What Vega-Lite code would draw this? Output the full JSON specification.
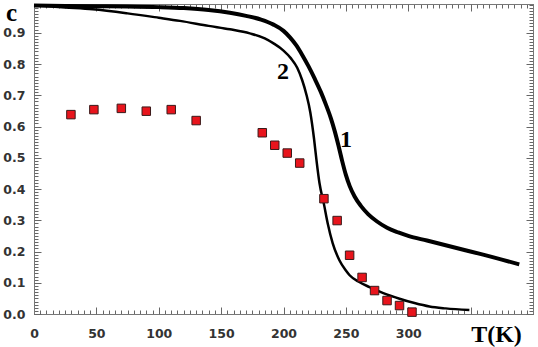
{
  "$schema": "https://vega.github.io/schema/vega-lite/v6.json",
  "width": 499,
  "height": 310,
  "autosize": {"type": "none"},
  "padding": {"left": 34, "top": 4, "right": 5, "bottom": 33},
  "background": "white",
  "datasets": {
    "curves": [
      {"T": 0, "c": 0.987}, {"T": 25, "c": 0.986}, {"T": 50, "c": 0.985}, {"T": 75, "c": 0.984}, {"T": 100, "c": 0.982}, {"T": 120, "c": 0.979}, {"T": 140, "c": 0.973}, {"T": 157, "c": 0.964}, {"T": 170, "c": 0.954}, {"T": 182, "c": 0.942}, {"T": 192, "c": 0.926}, {"T": 200, "c": 0.906}, {"T": 205, "c": 0.886}, {"T": 210, "c": 0.861}, {"T": 215, "c": 0.829}, {"T": 220, "c": 0.793}, {"T": 225, "c": 0.753}, {"T": 230, "c": 0.71}, {"T": 234, "c": 0.67}, {"T": 238, "c": 0.626}, {"T": 241, "c": 0.586}, {"T": 244, "c": 0.54}, {"T": 247, "c": 0.49}, {"T": 250, "c": 0.445}, {"T": 253, "c": 0.41}, {"T": 257, "c": 0.376}, {"T": 262, "c": 0.346}, {"T": 268, "c": 0.319}, {"T": 275, "c": 0.296}, {"T": 283, "c": 0.276}, {"T": 292, "c": 0.261}, {"T": 300, "c": 0.25}, {"T": 315, "c": 0.235}, {"T": 330, "c": 0.22}, {"T": 345, "c": 0.205}, {"T": 360, "c": 0.19}, {"T": 375, "c": 0.174}, {"T": 389, "c": 0.159}
    ],
    "curve2": [
      {"T": 0, "c": 0.988}, {"T": 25, "c": 0.981}, {"T": 47, "c": 0.975}, {"T": 75, "c": 0.962}, {"T": 100, "c": 0.948}, {"T": 117, "c": 0.938}, {"T": 140, "c": 0.922}, {"T": 157, "c": 0.911}, {"T": 173, "c": 0.898}, {"T": 185, "c": 0.882}, {"T": 192, "c": 0.866}, {"T": 200, "c": 0.843}, {"T": 206, "c": 0.818}, {"T": 211, "c": 0.788}, {"T": 215, "c": 0.748}, {"T": 218.5, "c": 0.7}, {"T": 221.5, "c": 0.645}, {"T": 224.5, "c": 0.56}, {"T": 226.5, "c": 0.49}, {"T": 228.8, "c": 0.42}, {"T": 232.5, "c": 0.35}, {"T": 235.5, "c": 0.289}, {"T": 239.4, "c": 0.227}, {"T": 244.8, "c": 0.172}, {"T": 250, "c": 0.139}, {"T": 253, "c": 0.124}, {"T": 260, "c": 0.104}, {"T": 269, "c": 0.086}, {"T": 280, "c": 0.067}, {"T": 293, "c": 0.049}, {"T": 305, "c": 0.035}, {"T": 317, "c": 0.024}, {"T": 330, "c": 0.018}, {"T": 349, "c": 0.013}
    ],
    "points": [
      {"T": 29.6, "c": 0.638, "err": 0.014}, {"T": 48, "c": 0.654, "err": 0.012}, {"T": 70, "c": 0.658, "err": 0.012}, {"T": 90, "c": 0.649, "err": 0.012}, {"T": 110, "c": 0.654, "err": 0.012}, {"T": 130, "c": 0.619, "err": 0.012}, {"T": 183, "c": 0.58, "err": 0.012}, {"T": 193, "c": 0.54, "err": 0.012}, {"T": 203, "c": 0.515, "err": 0.012}, {"T": 213, "c": 0.483, "err": 0.012}, {"T": 232.4, "c": 0.369, "err": 0.012}, {"T": 243, "c": 0.299, "err": 0.012}, {"T": 253, "c": 0.188, "err": 0.012}, {"T": 263, "c": 0.117, "err": 0.012}, {"T": 273, "c": 0.075, "err": 0.014}, {"T": 283, "c": 0.043, "err": 0.012}, {"T": 293, "c": 0.027, "err": 0.012}, {"T": 303, "c": 0.006, "err": 0.01}
    ],
    "labels": [
      {"T": 250, "c": 0.556, "text": "1"}, {"T": 199.5, "c": 0.775, "text": "2"}
    ]
  },
  "layer": [
    {
      "data": {"name": "curves"},
      "mark": {"type": "line", "color": "black", "strokeWidth": 4, "interpolate": "monotone"},
      "encoding": {
        "x": {"field": "T", "type": "quantitative", "scale": {"domain": [0, 400], "nice": false, "zero": false},
          "axis": {"orient": "bottom", "title": "T(K)", "titleFont": "Liberation Serif", "titleFontSize": 24, "titleFontWeight": "bold", "titleColor": "black", "titleAlign": "center", "titleBaseline": "alphabetic", "titleX": 462, "titleY": 27, "titleAngle": 0,
            "values": [0,5,10,15,20,25,30,35,40,45,50,55,60,65,70,75,80,85,90,95,100,105,110,115,120,125,130,135,140,145,150,155,160,165,170,175,180,185,190,195,200,205,210,215,220,225,230,235,240,245,250,255,260,265,270,275,280,285,290,295,300,305,310,315,320,325,330,335,340,345,350,355,360,365,370,375,380,385,390,395,400],
            "labelExpr": "(datum.value % 50 === 0 && datum.value <= 300) ? datum.label : ''",
            "labelOverlap": false, "labelFlush": false, "labelFont": "DejaVu Sans", "labelFontWeight": "bold", "labelFontSize": 12.5, "labelColor": "#333", "labelPadding": 17,
            "tickSize": -4, "tickColor": "#666", "tickWidth": 1, "domainColor": "#777", "grid": false}},
        "y": {"field": "c", "type": "quantitative", "scale": {"domain": [0, 0.992], "nice": false, "zero": false},
          "axis": {"orient": "left", "title": "c", "titleFont": "Liberation Serif", "titleFontSize": 25, "titleFontWeight": "bold", "titleColor": "black", "titleAlign": "center", "titleBaseline": "alphabetic", "titleAngle": 0, "titleX": -23, "titleY": 16,
            "values": [0,0.01,0.02,0.03,0.04,0.05,0.06,0.07,0.08,0.09,0.1,0.11,0.12,0.13,0.14,0.15,0.16,0.17,0.18,0.19,0.2,0.21,0.22,0.23,0.24,0.25,0.26,0.27,0.28,0.29,0.3,0.31,0.32,0.33,0.34,0.35,0.36,0.37,0.38,0.39,0.4,0.41,0.42,0.43,0.44,0.45,0.46,0.47,0.48,0.49,0.5,0.51,0.52,0.53,0.54,0.55,0.56,0.57,0.58,0.59,0.6,0.61,0.62,0.63,0.64,0.65,0.66,0.67,0.68,0.69,0.7,0.71,0.72,0.73,0.74,0.75,0.76,0.77,0.78,0.79,0.8,0.81,0.82,0.83,0.84,0.85,0.86,0.87,0.88,0.89,0.9,0.91,0.92,0.93,0.94,0.95,0.96,0.97,0.98,0.99],
            "labelExpr": "abs(datum.value*10 - round(datum.value*10)) < 0.001 ? format(datum.value, '.1f') : ''",
            "labelOverlap": false, "labelFont": "DejaVu Sans", "labelFontWeight": "bold", "labelFontSize": 12.5, "labelColor": "#333", "labelPadding": 13, "labelFlush": false,
            "tickSize": -4, "tickColor": "#666", "tickWidth": 1, "domainColor": "#777", "grid": false}}
      }
    },
    {
      "data": {"name": "curve2"},
      "mark": {"type": "line", "color": "black", "strokeWidth": 2.5, "interpolate": "monotone"},
      "encoding": {
        "x": {"field": "T", "type": "quantitative",
          "axis": {"orient": "top", "title": null, "labels": false,
            "values": [0,5,10,15,20,25,30,35,40,45,50,55,60,65,70,75,80,85,90,95,100,105,110,115,120,125,130,135,140,145,150,155,160,165,170,175,180,185,190,195,200,205,210,215,220,225,230,235,240,245,250,255,260,265,270,275,280,285,290,295,300,305,310,315,320,325,330,335,340,345,350,355,360,365,370,375,380,385,390,395,400],
            "tickSize": -4, "tickWidth": 1, "tickColor": "#666", "domainColor": "#777", "grid": false}},
        "y": {"field": "c", "type": "quantitative",
          "axis": {"orient": "right", "title": null, "labels": false,
            "values": [0,0.01,0.02,0.03,0.04,0.05,0.06,0.07,0.08,0.09,0.1,0.11,0.12,0.13,0.14,0.15,0.16,0.17,0.18,0.19,0.2,0.21,0.22,0.23,0.24,0.25,0.26,0.27,0.28,0.29,0.3,0.31,0.32,0.33,0.34,0.35,0.36,0.37,0.38,0.39,0.4,0.41,0.42,0.43,0.44,0.45,0.46,0.47,0.48,0.49,0.5,0.51,0.52,0.53,0.54,0.55,0.56,0.57,0.58,0.59,0.6,0.61,0.62,0.63,0.64,0.65,0.66,0.67,0.68,0.69,0.7,0.71,0.72,0.73,0.74,0.75,0.76,0.77,0.78,0.79,0.8,0.81,0.82,0.83,0.84,0.85,0.86,0.87,0.88,0.89,0.9,0.91,0.92,0.93,0.94,0.95,0.96,0.97,0.98,0.99],
            "tickSize": -4, "tickColor": "#666", "tickWidth": 1, "domainColor": "#777", "grid": false}}
      }
    },
    {
      "data": {"name": "points"},
      "transform": [{"calculate": "datum.c - datum.err", "as": "lo"}, {"calculate": "datum.c + datum.err", "as": "hi"}],
      "mark": {"type": "rule", "color": "#f4a3aa", "strokeWidth": 2},
      "encoding": {
        "x": {"field": "T", "type": "quantitative",
          "axis": {"orient": "bottom", "title": null, "labels": false, "domain": false, "values": [0,50,100,150,200,250,300,350,400], "tickSize": -7, "tickColor": "#666", "tickWidth": 1, "grid": false}},
        "y": {"field": "lo", "type": "quantitative",
          "axis": {"orient": "left", "title": null, "labels": false, "domain": false, "values": [0,0.1,0.2,0.3,0.4,0.5,0.6,0.7,0.8,0.9], "tickSize": -7, "tickColor": "#666", "tickWidth": 1, "grid": false}},
        "y2": {"field": "hi"}
      }
    },
    {
      "data": {"name": "points"},
      "mark": {"type": "point", "shape": "square", "filled": true, "size": 72, "fill": "#e8141c", "stroke": "#3a1a1a", "strokeWidth": 1, "opacity": 1},
      "encoding": {
        "x": {"field": "T", "type": "quantitative",
          "axis": {"orient": "top", "title": null, "labels": false, "domain": false, "values": [0,50,100,150,200,250,300,350,400], "tickSize": -7, "tickColor": "#666", "tickWidth": 1, "grid": false}},
        "y": {"field": "c", "type": "quantitative",
          "axis": {"orient": "right", "title": null, "labels": false, "domain": false, "values": [0,0.1,0.2,0.3,0.4,0.5,0.6,0.7,0.8,0.9], "tickSize": -7, "tickColor": "#666", "tickWidth": 1, "grid": false}}
      }
    },
    {
      "data": {"name": "labels"},
      "mark": {"type": "text", "font": "Liberation Serif", "fontWeight": "bold", "fontSize": 24, "color": "black", "align": "center", "baseline": "middle"},
      "encoding": {
        "x": {"field": "T", "type": "quantitative", "axis": null},
        "y": {"field": "c", "type": "quantitative", "axis": null},
        "text": {"field": "text"}
      }
    }
  ],
  "resolve": {"axis": {"x": "independent", "y": "independent"}}
}
